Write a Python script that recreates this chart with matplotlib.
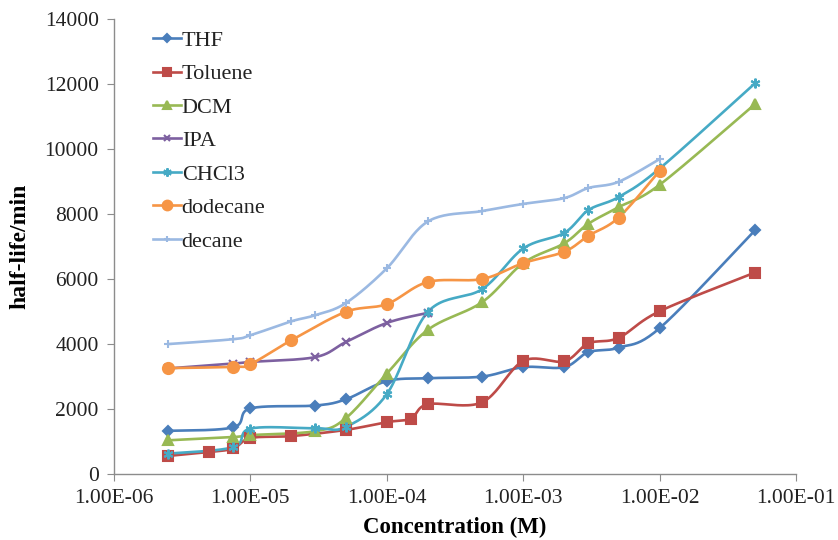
import numpy as np
import matplotlib
matplotlib.use("Agg")
import matplotlib.pyplot as plt

plt.rcParams['font.family'] = ['Liberation Serif', 'DejaVu Serif']

# concentrations (M) and half-lives (min)
thf_x = [2.5e-6, 7.5e-6, 1e-5, 3e-5, 5e-5, 1e-4, 2e-4, 5e-4, 1e-3, 2e-3, 3e-3, 5e-3, 1e-2, 5e-2]
thf_y = [1330, 1440, 2020, 2110, 2300, 2860, 2950, 3000, 3290, 3290, 3750, 3890, 4490, 7500]

tol_x = [2.5e-6, 5e-6, 7.5e-6, 1e-5, 2e-5, 5e-5, 1e-4, 1.5e-4, 2e-4, 5e-4, 1e-3, 2e-3, 3e-3, 5e-3, 1e-2, 5e-2]
tol_y = [560, 680, 790, 1110, 1170, 1360, 1600, 1710, 2150, 2210, 3480, 3470, 4020, 4190, 5010, 6200]

dcm_x = [2.5e-6, 7.5e-6, 1e-5, 3e-5, 5e-5, 1e-4, 2e-4, 5e-4, 1e-3, 2e-3, 3e-3, 5e-3, 1e-2, 5e-2]
dcm_y = [1040, 1140, 1200, 1320, 1720, 3090, 4440, 5290, 6490, 7100, 7700, 8210, 8900, 11380]

ipa_x = [2.5e-6, 7.5e-6, 1e-5, 3e-5, 5e-5, 1e-4, 2e-4]
ipa_y = [3250, 3400, 3450, 3600, 4060, 4650, 4960]

chcl3_x = [2.5e-6, 7.5e-6, 1e-5, 3e-5, 5e-5, 1e-4, 2e-4, 5e-4, 1e-3, 2e-3, 3e-3, 5e-3, 1e-2, 5e-2]
chcl3_y = [630, 830, 1400, 1410, 1450, 2460, 4990, 5690, 6940, 7420, 8120, 8520, 9400, 12020]

dod_x = [2.5e-6, 7.5e-6, 1e-5, 2e-5, 5e-5, 1e-4, 2e-4, 5e-4, 1e-3, 2e-3, 3e-3, 5e-3, 1e-2]
dod_y = [3260, 3300, 3380, 4120, 4990, 5230, 5910, 6000, 6490, 6840, 7330, 7890, 9330]

dec_x = [2.5e-6, 7.5e-6, 1e-5, 2e-5, 3e-5, 5e-5, 1e-4, 2e-4, 5e-4, 1e-3, 2e-3, 3e-3, 5e-3, 1e-2]
dec_y = [4000, 4150, 4270, 4700, 4890, 5260, 6330, 7770, 8090, 8310, 8490, 8800, 8990, 9690]

names = ['THF', 'Toluene', 'DCM', 'IPA', 'CHCl3', 'dodecane', 'decane']
series = [(thf_x, thf_y), (tol_x, tol_y), (dcm_x, dcm_y), (ipa_x, ipa_y),
          (chcl3_x, chcl3_y), (dod_x, dod_y), (dec_x, dec_y)]
colors = ['#4A7EBB', '#BE4B48', '#98B954', '#7D60A0', '#46AAC5', '#F69545', '#9BB9E2']
markers = ['D', 's', '^', 'x', (6, 2, 0), 'o', '+']
msizes = [5, 7, 7, 6, 7, 8, 6]


def smooth(xs, ys, n=24):
    """Excel-style smoothed line (Bezier through the points) in screen-like units."""
    u = np.log10(xs) * 136.5
    v = np.asarray(ys, float) / 30.77
    p = np.column_stack([u, v])
    out = [p[0]]
    for i in range(len(p) - 1):
        p0 = p[i - 1] if i > 0 else p[i]
        p1, p2 = p[i], p[i + 1]
        p3 = p[i + 2] if i + 2 < len(p) else p[i + 1]
        c1 = p1 + (p2 - p0) / 6
        c2 = p2 - (p3 - p1) / 6
        t = np.linspace(0, 1, n)[1:, None]
        seg = (1 - t) ** 3 * p1 + 3 * (1 - t) ** 2 * t * c1 + 3 * (1 - t) * t ** 2 * c2 + t ** 3 * p2
        out.extend(seg)
    out = np.array(out)
    return 10 ** (out[:, 0] / 136.5), out[:, 1] * 30.77


fig = plt.figure(figsize=(8.38, 5.40), dpi=100)
ax = fig.add_axes([0.136, 0.122, 0.814, 0.843])

for (xs, ys), name, c, m, ms in zip(series, names, colors, markers, msizes):
    sx, sy = smooth(xs, ys)
    ax.plot(sx, sy, color=c, lw=1.9, zorder=2)
    ax.plot(xs, ys, ls='none', marker=m, ms=ms, color=c, mec=c, mew=1.5, zorder=3)
    # legend proxy
    ax.plot([], [], color=c, lw=1.9, marker=m, ms=ms - 1, mec=c, mew=1.5, label=name)

ax.set_xscale('log')
ax.set_xlim(1e-6, 1e-1)
ax.set_ylim(0, 14000)
ax.set_xticks([1e-6, 1e-5, 1e-4, 1e-3, 1e-2, 1e-1])
ax.set_xticklabels(['1.00E-06', '1.00E-05', '1.00E-04', '1.00E-03', '1.00E-02', '1.00E-01'])
ax.xaxis.set_minor_locator(matplotlib.ticker.NullLocator())
ax.set_yticks(np.arange(0, 14001, 2000))

for s in ['top', 'right']:
    ax.spines[s].set_visible(False)
for s in ['left', 'bottom']:
    ax.spines[s].set_color('#8C8C8C')
    ax.spines[s].set_linewidth(1.0)
ax.tick_params(colors='#8C8C8C', labelcolor='#222222', length=5, labelsize=15.5, pad=6)

ax.set_xlabel('Concentration (M)', fontsize=16.5, fontweight='bold', labelpad=6)
ax.set_ylabel('half-life/min', fontsize=17, fontweight='bold', labelpad=10)

leg = ax.legend(loc='upper left', bbox_to_anchor=(0.057, 0.975), frameon=False,
                fontsize=16, handlelength=1.25, handletextpad=0.05, labelspacing=0.58,
                borderpad=0, borderaxespad=0)
for txt in leg.get_texts():
    txt.set_color('#222222')

fig.savefig('out.png', dpi=100)
